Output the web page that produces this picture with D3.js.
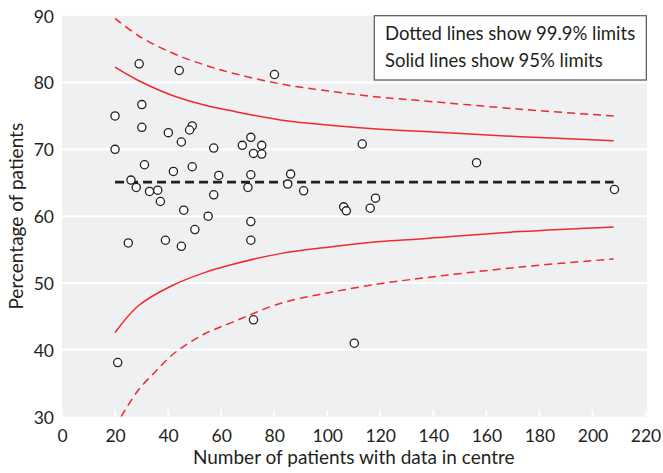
<!DOCTYPE html>
<html>
<head>
<meta charset="utf-8">
<script src="https://cdn.jsdelivr.net/npm/d3@7"></script>
<style>
  html, body { margin: 0; padding: 0; background: #ffffff; }
  svg { display: block; }
  text { font-family: Lato, "Open Sans", sans-serif; fill: #231f20; }
</style>
</head>
<body>
<div id="chart"></div>
<script>
// ---- data ----
const centreN = [20, 208];
const centreValue = 65.1;

const patients = [29.1, 44.2, 80.1, 20.0, 30.1, 30.1, 40.1, 49.1, 48.1, 45.0, 20.0, 57.2, 68.0, 71.2, 72.2, 75.3, 75.3,
  31.1, 49.1, 42.0, 59.1, 71.2, 86.2, 26.0, 28.0, 33.0, 36.1, 37.1, 57.2, 70.1, 85.1, 91.1, 45.9, 55.1, 71.2, 50.1,
  25.0, 39.0, 45.0, 71.2, 72.2, 21.0, 113.2, 156.3, 208.3, 106.2, 107.2, 116.2, 118.2, 110.2];
const percentage = [82.8, 81.8, 81.2, 75.0, 76.7, 73.3, 72.5, 73.5, 72.9, 71.1, 70.0, 70.2, 70.6, 71.8, 69.4, 70.6, 69.3,
  67.7, 67.4, 66.7, 66.1, 66.2, 66.3, 65.4, 64.3, 63.7, 63.9, 62.2, 63.2, 64.3, 64.8, 63.8, 60.9, 60.0, 59.2, 58.0,
  56.0, 56.4, 55.5, 56.4, 44.5, 38.1, 70.8, 68.0, 64.0, 61.4, 60.8, 61.2, 62.7, 41.0];

const limitN = [20, 28.8, 41.4, 54, 63.4, 82.3, 101.1, 120, 135.1, 172.8, 208];
const upper95 = [82.3, 80.3, 78.1, 76.6, 75.8, 74.4, 73.6, 73.0, 72.7, 71.9, 71.3];
const lower95 = [42.6, 46.6, 49.6, 51.6, 52.7, 54.4, 55.4, 56.2, 56.6, 57.7, 58.4];
const upper999 = [89.6, 87.0, 84.45, 82.6, 81.5, 79.8, 78.7, 77.8, 77.3, 76.0, 75.0];
const lowerN999 = [22.3, 28.8, 35.1, 41.4, 47.7, 54, 63.4, 82.3, 101.1, 120, 135.1, 172.8, 208];
const lower999 = [30.0, 34.0, 36.7, 39.2, 41.0, 42.45, 44.0, 46.95, 48.6, 49.9, 50.7, 52.4, 53.6];

const xTicks = [0, 20, 40, 60, 80, 100, 120, 140, 160, 180, 200, 220];
const yTicks = [30, 40, 50, 60, 70, 80, 90];
const legendLines = ["Dotted lines show 99.9% limits", "Solid lines show 95% limits"];
const xTitle = "Number of patients with data in centre";
const yTitle = "Percentage of patients";

// ---- layout ----
const W = 663, H = 473;
const mLeft = 62, mRight = 645.5, mTop = 15.7, mBottom = 416.7;

const svg = d3.select("#chart").append("svg").attr("width", W).attr("height", H);

const x = d3.scaleLinear().domain([0, 220]).range([mLeft, mRight]);
const y = d3.scaleLinear().domain([30, 90]).range([mBottom, mTop]);

// background
svg.append("rect").attr("x", mLeft).attr("y", mTop)
  .attr("width", mRight - mLeft + 1.5).attr("height", mBottom - mTop)
  .attr("fill", "#eff0f2");

// horizontal gridlines
svg.append("g").selectAll("line").data(yTicks.filter(d => d > 30 && d < 90)).join("line")
  .attr("x1", mLeft).attr("x2", mRight + 1.5)
  .attr("y1", d => y(d)).attr("y2", d => y(d))
  .attr("stroke", "#ffffff").attr("stroke-width", 2);

// white tick marks at bottom
svg.append("g").selectAll("line").data(xTicks).join("line")
  .attr("x1", d => x(d)).attr("x2", d => x(d))
  .attr("y1", mBottom).attr("y2", mBottom - 7)
  .attr("stroke", "#ffffff").attr("stroke-width", 2);

svg.append("clipPath").attr("id", "plotclip")
  .append("rect").attr("x", mLeft).attr("y", mTop).attr("width", mRight - mLeft).attr("height", mBottom - mTop);

const plot = svg.append("g").attr("clip-path", "url(#plotclip)");

const line = d3.line().curve(d3.curveCatmullRom.alpha(0.5));
const red = "#ee2a2e";

function drawLimit(ns, vs, dashed) {
  plot.append("path")
    .attr("d", line(ns.map((n, i) => [x(n), y(vs[i])])))
    .attr("fill", "none").attr("stroke", red).attr("stroke-width", 1.5)
    .attr("stroke-dasharray", dashed ? "8,5" : null);
}
drawLimit(limitN, upper999, true);
drawLimit(lowerN999, lower999, true);
drawLimit(limitN, upper95, false);
drawLimit(limitN, lower95, false);

// centre line
plot.append("line")
  .attr("x1", x(centreN[0])).attr("x2", x(centreN[1]))
  .attr("y1", y(centreValue)).attr("y2", y(centreValue))
  .attr("stroke", "#231f20").attr("stroke-width", 2.6).attr("stroke-dasharray", "9,5");

// points
svg.append("g").selectAll("circle").data(patients).join("circle")
  .attr("cx", d => x(d)).attr("cy", (d, i) => y(percentage[i]))
  .attr("r", 4.1).attr("fill", "#ffffff").attr("stroke", "#231f20").attr("stroke-width", 1.3);

// axes labels
const xAxis = d3.axisBottom(x).tickValues(xTicks).tickSize(0).tickPadding(0);
const gx = svg.append("g").attr("transform", `translate(0,${mBottom})`).call(xAxis);
gx.select(".domain").remove();
gx.selectAll("text").attr("dy", null).attr("y", 25.5).style("font-size", "17.5px").attr("fill", "#231f20");

const yAxis = d3.axisLeft(y).tickValues(yTicks).tickSize(0).tickPadding(0);
const gy = svg.append("g").attr("transform", `translate(${mLeft - 8},0)`).call(yAxis);
gy.select(".domain").remove();
gy.selectAll("text").attr("dy", "0.36em").attr("x", 0).style("font-size", "17.5px").attr("fill", "#231f20");

svg.append("text").attr("x", (mLeft + mRight) / 2).attr("y", 464)
  .attr("text-anchor", "middle").style("font-size", "19px").text(xTitle);
svg.append("text").attr("transform", `translate(23,${(mTop + mBottom) / 2}) rotate(-90)`)
  .attr("text-anchor", "middle").style("font-size", "19px").text(yTitle);

// legend
svg.append("rect").attr("x", 374.3).attr("y", 15.7).attr("width", 272).attr("height", 64.3)
  .attr("fill", "#ffffff").attr("stroke", "#555555").attr("stroke-width", 1.2);
svg.append("g").selectAll("text").data(legendLines).join("text")
  .attr("x", 385).attr("y", (d, i) => 40 + i * 27)
  .style("font-size", "18.5px").text(d => d);
</script>
</body>
</html>
